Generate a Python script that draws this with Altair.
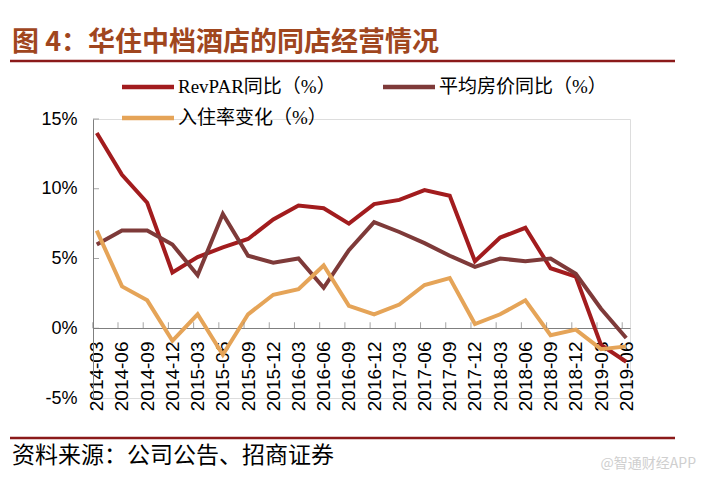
import altair as alt
import pandas as pd

quarters = ["2014-03","2014-06","2014-09","2014-12","2015-03","2015-06","2015-09","2015-12",
            "2016-03","2016-06","2016-09","2016-12","2017-03","2017-06","2017-09","2017-12",
            "2018-03","2018-06","2018-09","2018-12","2019-03","2019-06"]
revpar = [14.0, 11.0, 9.0, 4.0, 5.1, 5.8, 6.4, 7.8, 8.8, 8.6, 7.5, 8.9, 9.2, 9.9, 9.5, 4.8,
          6.5, 7.2, 4.3, 3.7, -1.2, -2.4]
adr = [6.0, 7.0, 7.0, 6.0, 3.8, 8.2, 5.2, 4.7, 5.0, 2.9, 5.6, 7.6, 6.9, 6.1, 5.2, 4.4,
       5.0, 4.8, 5.0, 3.9, 1.4, -0.7]
occ = [7.0, 3.0, 2.0, -0.9, 1.0, -1.9, 1.0, 2.4, 2.8, 4.5, 1.6, 1.0, 1.7, 3.1, 3.6, 0.3,
       1.0, 2.0, -0.5, -0.1, -1.5, -1.3]
series_names = ["RevPAR同比（%）", "平均房价同比（%）", "入住率变化（%）"]
series_colors = ["#A21C1E", "#7E3A39", "#E5A458"]
y_ticks = [-5, 0, 5, 10, 15]

title_text = "图 4：华住中档酒店的同店经营情况"
source_text = "资料来源：公司公告、招商证券"
watermark_text = "@智通财经APP"

df = pd.DataFrame({"季度": quarters, series_names[0]: revpar,
                   series_names[1]: adr, series_names[2]: occ})
long = df.melt(id_vars="季度", var_name="系列", value_name="值")

W, H = 537, 279
xscale = alt.Scale(type="point", domain=quarters, padding=0.15)
yscale = alt.Scale(domain=[-5, 15], nice=False)

lines = alt.Chart(long).mark_line(strokeWidth=4).encode(
    x=alt.X("季度:N", scale=xscale, sort=quarters,
            axis=alt.Axis(title=None, labelAngle=-90, offset=-70, ticks=False,
                          labelPadding=13, labelFontSize=19, labelFont="Liberation Sans",
                          labelColor="#000000", domainColor="#7f7f7f", domainWidth=1)),
    y=alt.Y("值:Q", scale=yscale,
            axis=alt.Axis(title=None, values=y_ticks, ticks=False, grid=False,
                          labelExpr="datum.value + '%'", labelPadding=16,
                          labelFontSize=18, labelFont="Liberation Sans",
                          labelColor="#000000", domainColor="#7f7f7f", domainWidth=1)),
    color=alt.Color("系列:N", scale=alt.Scale(domain=series_names, range=series_colors),
                    legend=None),
    order=alt.Order("系列:N"),
)

xt = alt.Chart(pd.DataFrame({"季度": quarters})).mark_tick(
    orient="vertical", size=6, thickness=1, color="#7f7f7f", yOffset=-3, xOffset=-4
).encode(x=alt.X("季度:N", scale=xscale, sort=quarters), y=alt.YDatum(0))

yt = alt.Chart(pd.DataFrame({"v": y_ticks})).mark_tick(
    orient="horizontal", size=6, thickness=1, color="#7f7f7f"
).encode(y=alt.Y("v:Q", scale=yscale), x=alt.value(3))

def label(text, x, y, size, color, weight="normal", align="left", font="Noto Sans CJK SC"):
    return alt.Chart(pd.DataFrame({"t": [text]})).mark_text(
        align=align, baseline="middle", fontSize=size, color=color,
        fontWeight=weight, font=font
    ).encode(text="t:N", x=alt.value(x), y=alt.value(y))

def hrule(x1, x2, y, color, width):
    return alt.Chart(pd.DataFrame({"a": [0]})).mark_rule(color=color, strokeWidth=width).encode(
        x=alt.value(x1), x2=alt.value(x2), y=alt.value(y))

# legend: two columns, entries placed row by row
legend_slots = [(29, -32), (290, -32), (29, -1)]
legend_layers = []
for name, color, (lx, ly) in zip(series_names, series_colors, legend_slots):
    legend_layers.append(hrule(lx, lx + 52, ly, color, 4.5))
    legend_layers.append(label(name, lx + 56, ly, 19, "#000000",
                               font="Liberation Serif, Noto Sans CJK SC"))

title = label(title_text, -81, -76, 27, "#A0461E", weight="bold")
title_rule = hrule(-83, 582, -58, "#8B1A1A", 2.5)
foot_rule = hrule(-83, 582, 319, "#8B1A1A", 2.5)
foot = label(source_text, -81, 337, 23, "#000000")
wm = label(watermark_text, 603, 345, 14, "#cfcfcf", align="right")

chart = alt.layer(lines, xt, yt, title, title_rule, foot_rule, foot, wm, *legend_layers).properties(
    width=W, height=H,
    autosize=alt.AutoSizeParams(type="none"),
    padding={"left": 85, "top": 111, "right": 69, "bottom": 79},
).configure_view(stroke=None).configure(background="white")

chart.save("out.html", embed_options={"renderer": "svg", "actions": False})
